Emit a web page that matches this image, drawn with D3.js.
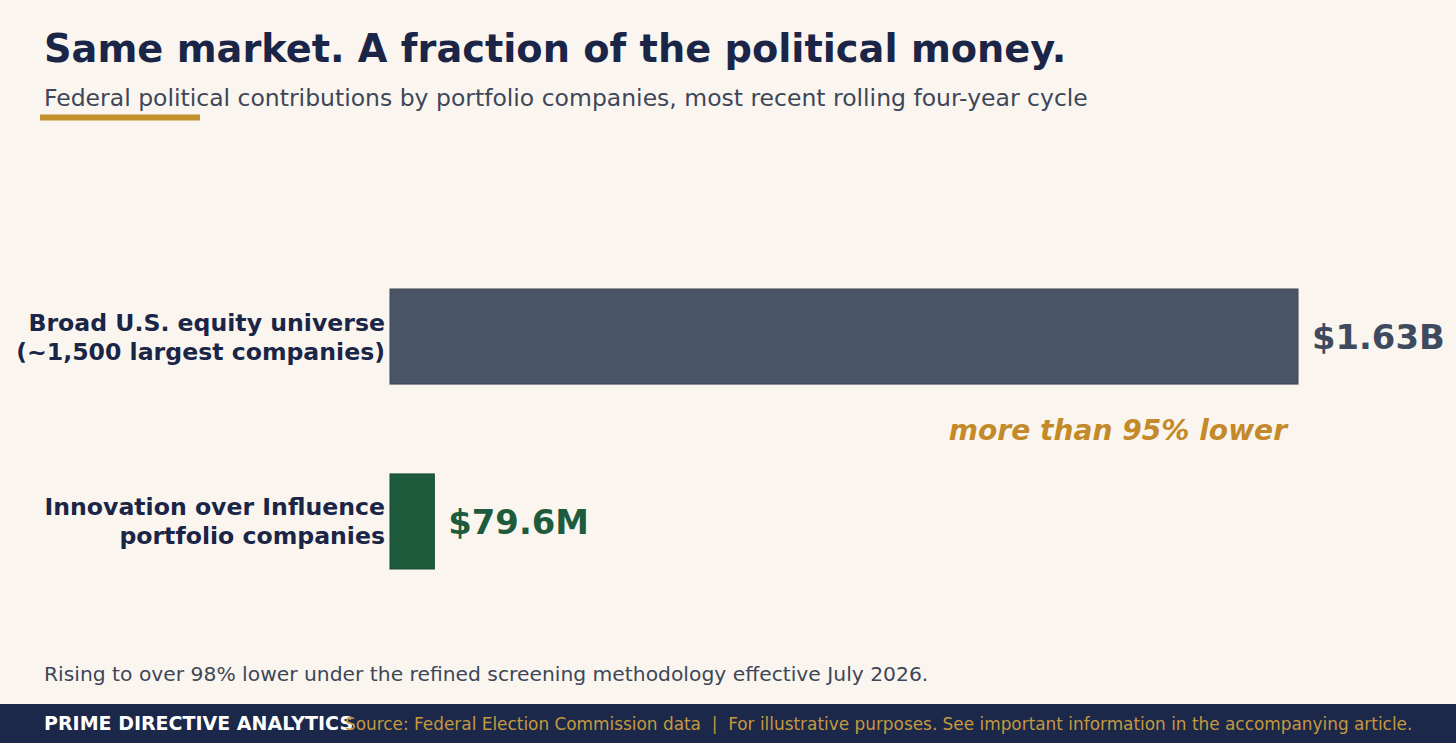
<!DOCTYPE html>
<html>
<head>
<meta charset="utf-8">
<script src="https://cdn.jsdelivr.net/npm/d3@7"></script>
<style>
  html, body { margin: 0; padding: 0; background: #faf6ef; overflow: hidden; }
  svg { display: block; font-family: "DejaVu Sans", sans-serif; }
</style>
</head>
<body>
<script>
// contributions in $ millions
const categories = ["Broad U.S. equity universe\n(~1,500 largest companies)", "Innovation over Influence\nportfolio companies"]
const values = [1630, 79.6]
const valueLabels = ["$1.63B", "$79.6M"]
const barColors = ["#4a5568", "#1e5b3d"]
const labelColors = ["#3e4a5e", "#1e5b3d"]

const width = 1456, height = 743

const svg = d3.select("body")
    .append("svg")
    .attr("width", width)
    .attr("height", height)
    .attr("viewBox", `0 0 ${width} ${height}`)

svg.append("rect").attr("width", width).attr("height", height).attr("fill", "#faf6ef")

// header
svg.append("text")
    .attr("x", 44).attr("y", 62)
    .attr("font-size", 38.3).attr("font-weight", "bold")
    .attr("fill", "#1a2547")
    .text("Same market. A fraction of the political money.")

svg.append("text")
    .attr("x", 44).attr("y", 106)
    .attr("font-size", 23.5)
    .attr("fill", "#3e4658")
    .text("Federal political contributions by portfolio companies, most recent rolling four-year cycle")

svg.append("rect")
    .attr("x", 40).attr("y", 114.5).attr("width", 160).attr("height", 6)
    .attr("fill", "#c6902f")

const x = d3.scaleLinear().domain([0, values[0]]).range([390, 1298])
const y = d3.scaleBand().domain(categories).range([289, 569]).paddingInner(0.486).paddingOuter(0)

const rows = svg.selectAll(".row")
    .data(categories.map((c, i) => ({cat: c, v: values[i], label: valueLabels[i], i})))
    .join("g")
    .attr("class", "row")

rows.append("rect")
    .attr("x", x(0))
    .attr("y", d => y(d.cat))
    .attr("width", d => x(d.v) - x(0))
    .attr("height", y.bandwidth())
    .attr("fill", d => barColors[d.i])
    .attr("stroke", d => d3.color(barColors[d.i]).darker(0.6))
    .attr("stroke-width", 1)

rows.append("text")
    .attr("x", d => x(d.v) + 14)
    .attr("y", d => y(d.cat) + y.bandwidth() / 2)
    .attr("dy", "0.36em")
    .attr("font-size", 33.8)
    .attr("font-weight", "bold")
    .attr("fill", d => labelColors[d.i])
    .text(d => d.label)

// category labels, two lines each
rows.append("text")
    .attr("text-anchor", "end")
    .attr("font-size", 23.6)
    .attr("font-weight", "bold")
    .attr("fill", "#1a2547")
    .selectAll("tspan")
    .data(d => d.cat.split("\n").map((t, k) => ({t, k, d})))
    .join("tspan")
    .attr("x", 385)
    .attr("y", t => y(t.d.cat) + y.bandwidth() / 2 + (t.k === 0 ? -14.5 : 14.5))
    .attr("dy", "0.36em")
    .text(t => t.t)

// annotation between bars
svg.append("text")
    .attr("x", 1287).attr("y", 440)
    .attr("text-anchor", "end")
    .attr("font-size", 28.1).attr("font-weight", "bold").attr("font-style", "italic")
    .attr("fill", "#c48a2a")
    .text("more than 95% lower")

svg.append("text")
    .attr("x", 44).attr("y", 681)
    .attr("font-size", 20.3)
    .attr("fill", "#3e4658")
    .text("Rising to over 98% lower under the refined screening methodology effective July 2026.")

// footer band
svg.append("rect")
    .attr("x", 0).attr("y", 704).attr("width", width).attr("height", height - 704)
    .attr("fill", "#1b2849")

svg.append("text")
    .attr("x", 44).attr("y", 730)
    .attr("font-size", 19).attr("font-weight", "bold")
    .attr("fill", "#ffffff")
    .text("PRIME DIRECTIVE ANALYTICS")

svg.append("text")
    .attr("x", 345).attr("y", 729.5)
    .attr("font-size", 16.9)
    .attr("fill", "#c6983e")
    .style("white-space", "pre")
    .text("Source: Federal Election Commission data  |  For illustrative purposes. See important information in the accompanying article.")
</script>
</body>
</html>
